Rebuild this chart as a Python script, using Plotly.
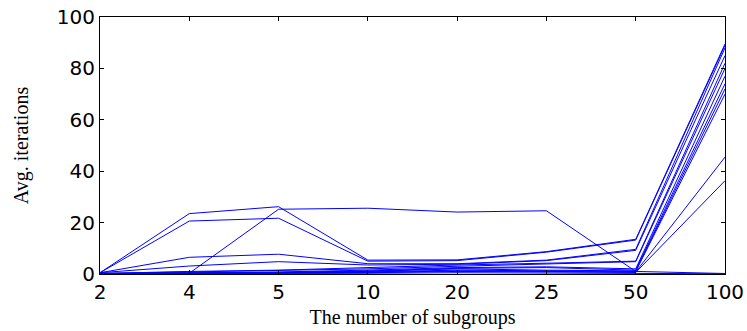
import plotly.graph_objects as go

categories = ["2", "4", "5", "10", "20", "25", "50", "100"]

s01 = [0.5, 23.5, 26.2, 5.4, 5.5, 8.7, 13.5, 89.5]
s02 = [0.5, 20.6, 21.7, 5.0, 5.2, 8.5, 13.2, 89.0]
s03 = [0.3, 0.3, 25.2, 25.6, 24.1, 24.6, 1.0, 0.2]
s04 = [0.5, 6.5, 7.7, 4.0, 4.0, 5.4, 9.6, 88.0]
s05 = [0.5, 3.1, 4.8, 3.5, 3.8, 5.2, 9.2, 85.0]
s06 = [0.2, 1.0, 1.5, 2.5, 3.5, 4.2, 5.0, 82.0]
s07 = [0.2, 0.8, 1.2, 2.0, 3.0, 4.0, 4.8, 80.0]
s08 = [0.1, 0.5, 0.8, 1.5, 2.5, 2.8, 2.0, 77.0]
s09 = [0.1, 0.4, 0.6, 1.2, 2.2, 2.5, 1.5, 74.0]
s10 = [0.1, 0.3, 0.5, 1.0, 2.0, 1.5, 1.2, 72.0]
s11 = [0.1, 0.3, 0.4, 0.8, 1.5, 1.2, 1.0, 70.0]
s12 = [0.1, 0.2, 0.3, 0.6, 1.2, 1.0, 0.8, 45.5]
s13 = [0.1, 0.2, 0.3, 0.5, 1.0, 0.8, 0.6, 36.3]
s14 = [0.1, 0.1, 0.2, 0.3, 0.5, 0.4, 0.3, 0.1]

series = [s01, s02, s03, s04, s05, s06, s07, s08, s09, s10, s11, s12, s13, s14]

y_ticks = [0, 20, 40, 60, 80, 100]

fig = go.Figure()
for s in series:
    fig.add_trace(go.Scatter(
        x=categories, y=s, mode="lines",
        line=dict(color="#0000FF", width=1),
        showlegend=False, hoverinfo="skip",
    ))

axis_common = dict(
    showline=True, linecolor="black", linewidth=1, mirror="ticks",
    ticks="inside", ticklen=4, tickcolor="black", tickwidth=1,
    showgrid=False, zeroline=False, ticklabeloverflow="allow",
    tickfont=dict(family="DejaVu Sans", size=20, color="black"),
)

fig.update_layout(
    width=747, height=331,
    margin=dict(l=100, r=22, t=17, b=57),
    paper_bgcolor="white", plot_bgcolor="white",
    xaxis=dict(
        type="category", categoryorder="array", categoryarray=categories,
        range=[0, len(categories) - 1],
        title=dict(text="The number of subgroups",
                   font=dict(family="Liberation Serif, Times New Roman", size=20, color="black"),
                   standoff=6),
        automargin=False,
        **axis_common,
    ),
    yaxis=dict(
        range=[0, 100], tickvals=y_ticks,
        title=dict(text="Avg. iterations",
                   font=dict(family="Liberation Serif, Times New Roman", size=20, color="black"),
                   standoff=22),
        automargin=False,
        **axis_common,
    ),
)

fig.write_html("out.html", config={"displayModeBar": False},
               post_script="document.body.style.margin='0';")
